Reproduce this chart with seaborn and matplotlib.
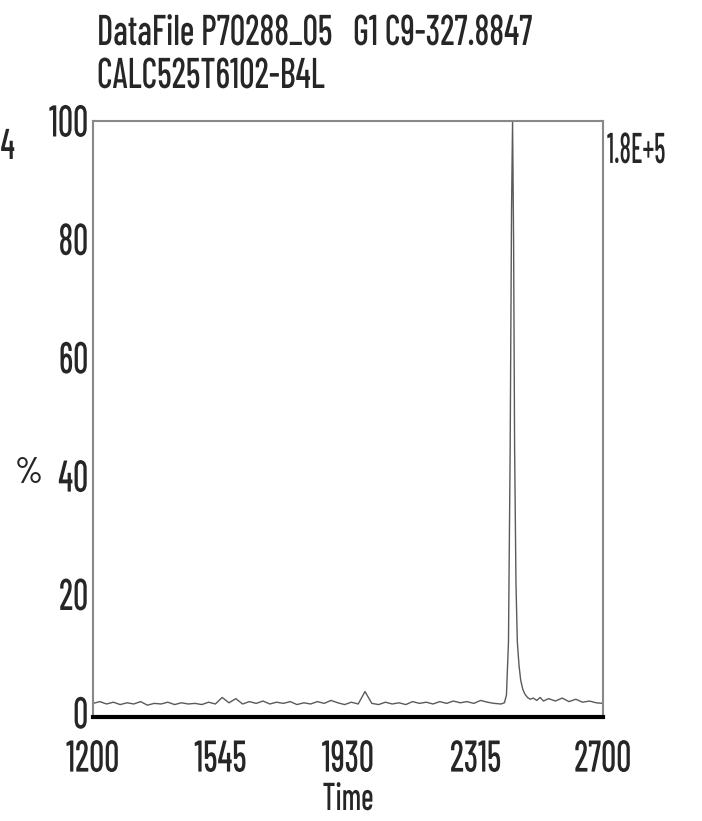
import matplotlib
matplotlib.use("Agg")
import matplotlib.pyplot as plt
import seaborn as sns
import pandas as pd
from matplotlib.patheffects import AbstractPathEffect
from matplotlib.transforms import Affine2D

# ---------------- data ----------------
title_line1 = "DataFile P70288_05   G1 C9-327.8847"
title_line2 = "CALC525T6102-B4L"
left_mark = "4"
scale_label = "1.8E+5"
x_label = "Time"
y_label = "%"
x_ticks = [12.0, 15.75, 19.5, 23.25, 27.0]
x_tick_labels = ["1200", "1545", "1930", "2315", "2700"]
y_ticks = [0, 20, 40, 60, 80, 100]
y_tick_labels = ["0", "20", "40", "60", "80", "100"]

time_min = [
    12.0, 12.2, 12.4, 12.6, 12.8, 13.0, 13.2, 13.4, 13.6, 13.8,
    14.0, 14.2, 14.4, 14.6, 14.8, 15.0, 15.2, 15.4, 15.6, 15.8,
    16.0, 16.2, 16.4, 16.6, 16.8, 17.0, 17.2, 17.4, 17.6, 17.8,
    18.0, 18.2, 18.4, 18.6, 18.8, 19.0, 19.2, 19.4, 19.6, 19.8,
    20.0, 20.2, 20.4, 20.6, 20.8, 21.0, 21.2, 21.4, 21.6, 21.8,
    22.0, 22.2, 22.4, 22.6, 22.8, 23.0, 23.2, 23.4, 23.6, 23.8,
    24.0, 24.1, 24.16, 24.22, 24.27, 24.31, 24.34, 24.37, 24.40, 24.44,
    24.48, 24.53, 24.58, 24.64, 24.70, 24.78, 24.86, 24.95, 25.05, 25.15,
    25.25, 25.4, 25.6, 25.8, 26.0, 26.2, 26.4, 26.6, 26.8, 27.0,
]
intensity_pct = [
    1.6, 1.9, 1.5, 1.8, 1.4, 1.7, 1.5, 1.9, 1.3, 1.6,
    1.5, 1.8, 1.4, 1.7, 1.5, 1.6, 1.4, 1.8, 1.5, 2.6,
    1.7, 2.4, 1.5, 1.9, 1.6, 2.0, 1.5, 1.8, 1.6, 1.9,
    1.4, 1.7, 1.5, 1.9, 1.6, 2.1, 1.7, 1.4, 1.8, 1.5,
    3.6, 1.6, 1.4, 1.8, 1.5, 1.7, 1.4, 1.9, 1.6, 1.8,
    1.5, 1.9, 1.6, 2.0, 1.7, 1.9, 1.6, 2.1, 1.8, 1.6,
    1.5, 1.7, 3.0, 12.0, 45.0, 85.0, 100.0, 80.0, 45.0, 22.0,
    12.0, 8.0, 5.5, 4.0, 3.2, 2.6, 2.3, 2.5, 2.1, 2.6,
    2.0, 2.4, 2.0, 2.5, 1.9, 2.3, 1.8, 2.0, 1.7, 1.6,
]

df = pd.DataFrame({"time": time_min, "pct": intensity_pct})


class Squeeze(AbstractPathEffect):
    """Narrow the glyphs horizontally (condensed instrument font look)."""

    def __init__(self, sx=0.8, anchor="center"):
        super().__init__()
        self.sx = sx
        self.anchor = anchor

    def draw_path(self, renderer, gc, tpath, affine, rgbFace=None):
        ext = tpath.get_extents()
        if self.anchor == "left":
            cx = 0.0
        elif self.anchor == "right":
            cx = ext.x1
        else:
            cx = (ext.x0 + ext.x1) / 2.0
        t = Affine2D().translate(-cx, 0).scale(self.sx, 1.0).translate(cx, 0) + affine
        renderer.draw_path(gc, tpath, t, rgbFace)


sns.set_style("white")
plt.rcParams["font.family"] = ["Barlow Condensed", "DejaVu Sans"]
plt.rcParams["font.weight"] = 500

W, H = 702, 821
fig = plt.figure(figsize=(W / 100, H / 100), dpi=100)
ax_left, ax_right, ax_top, ax_bot = 93, 603, 121, 717
ax = fig.add_axes([ax_left / W, 1 - ax_bot / H, (ax_right - ax_left) / W, (ax_bot - ax_top) / H])

sns.lineplot(data=df, x="time", y="pct", ax=ax, color="#5a5a5a", linewidth=1.0)

ax.set_xlim(12.0, 27.0)
ax.set_ylim(-0.7, 100)
ax.set_xticks(x_ticks, x_tick_labels)
ax.set_yticks(y_ticks, y_tick_labels)
ax.tick_params(axis="x", length=0, pad=17, labelsize=32)
ax.tick_params(axis="y", length=3, width=1.2, color="#777777", pad=0, labelsize=32)
ax.set_xlabel("")
ax.set_ylabel("")

for side in ["left", "top", "right"]:
    ax.spines[side].set_color("#888888")
    ax.spines[side].set_linewidth(1.5)
ax.spines["bottom"].set_color("black")
ax.spines["bottom"].set_linewidth(3.0)

SX = 0.76
for lbl in ax.get_xticklabels():
    lbl.set_path_effects([Squeeze(SX, "center")])
for lbl in ax.get_yticklabels():
    lbl.set_path_effects([Squeeze(SX, "right")])

fig.text(348 / W, 1 - 800 / H, x_label, ha="center", va="center", fontsize=28,
         path_effects=[Squeeze(SX, "center")])
fig.text(29 / W, 1 - 473 / H, y_label, ha="center", va="center", fontsize=26)
fig.text(97 / W, 1 - 34 / H, title_line1, ha="left", va="center", fontsize=31,
         path_effects=[Squeeze(0.8, "left")])
fig.text(97 / W, 1 - 77 / H, title_line2, ha="left", va="center", fontsize=31,
         path_effects=[Squeeze(0.8, "left")])
fig.text(607 / W, 1 - 152 / H, scale_label, ha="left", va="center", fontsize=31,
         path_effects=[Squeeze(0.62, "left")])
fig.text(0.5 / W, 1 - 148 / H, left_mark, ha="left", va="center", fontsize=31,
         path_effects=[Squeeze(SX, "left")])

fig.savefig("out.png", dpi=100)
